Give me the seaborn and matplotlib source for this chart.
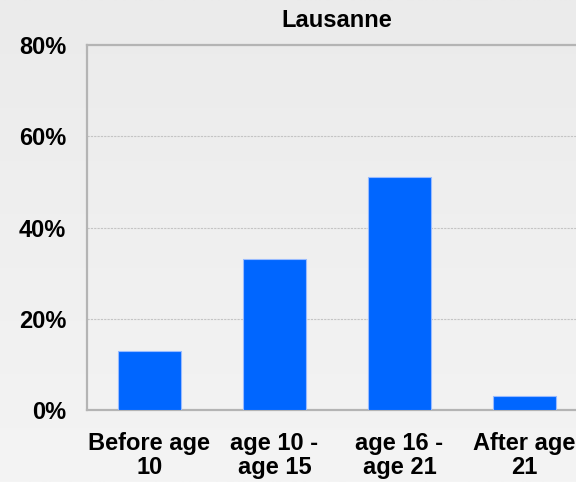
import numpy as np
import pandas as pd
import matplotlib
matplotlib.use("Agg")
import matplotlib.pyplot as plt
import seaborn as sns
from matplotlib.ticker import PercentFormatter
from matplotlib.colors import LinearSegmentedColormap

# data
categories = ["Before age\n10", "age 10 -\nage 15", "age 16 -\nage 21", "After age\n21"]
shares = [13, 33, 51, 3]
title = "Lausanne"

df = pd.DataFrame({"Age": categories, "Share": shares})

sns.set_style("white")
plt.rcParams["font.family"] = ["Liberation Sans", "DejaVu Sans"]
plt.rcParams["font.weight"] = "bold"
plt.rcParams["text.color"] = "black"
plt.rcParams["xtick.labelcolor"] = "black"
plt.rcParams["ytick.labelcolor"] = "black"

fig = plt.figure(figsize=(5.76, 4.82), dpi=100, facecolor="#efefef")

# soft grey gradient behind everything
bg = fig.add_axes([0, 0, 1, 1], zorder=-1)
grey_cmap = LinearSegmentedColormap.from_list("bg", ["#ebebeb", "#f4f4f4"])
bg.imshow(np.linspace(0, 1, 256).reshape(-1, 1), aspect="auto", cmap=grey_cmap)
bg.axis("off")

ax = fig.add_axes([0.151, 0.1494, 0.868, 0.7572])
ax.set_facecolor("none")

sns.barplot(data=df, x="Age", y="Share", color="#0066ff", width=0.5,
            saturation=1, edgecolor="#99bbff", linewidth=0.8, ax=ax, zorder=3)

ax.set_ylim(0, 80)
ax.set_xlim(-0.5, 3.5)
ax.set_yticks([0, 20, 40, 60, 80])
ax.yaxis.set_major_formatter(PercentFormatter(decimals=0))
for y in [20, 40, 60]:
    ax.axhline(y, color="#c4c4c4", linestyle=(0, (2, 1)), linewidth=0.8, zorder=1)

ax.set_xticks([-0.5, 0.5, 1.5, 2.5, 3.5], minor=False)
ax.set_xticklabels([])
ax.set_xticks(range(4), minor=True)
ax.set_xticklabels(categories, minor=True, fontsize=17, fontweight="bold",
                   linespacing=1.07, color="black")
ax.tick_params(axis="x", which="major", length=5, width=1, color="#aaaaaa", direction="out")
ax.tick_params(axis="x", which="minor", length=0, pad=16)
ax.tick_params(axis="y", length=5, width=1, color="#aaaaaa", pad=10, labelsize=17)
for lab in ax.get_yticklabels():
    lab.set_fontweight("bold")
    lab.set_color("black")

ax.set_xlabel("")
ax.set_ylabel("")
ax.set_title(title, fontsize=17, fontweight="bold", pad=13, color="black")

for side in ["left", "top", "bottom", "right"]:
    ax.spines[side].set_color("#b4b4b4")
    ax.spines[side].set_linewidth(1.6)
    ax.spines[side].set_visible(True)

fig.savefig("out.png", dpi=100, facecolor=fig.get_facecolor())
